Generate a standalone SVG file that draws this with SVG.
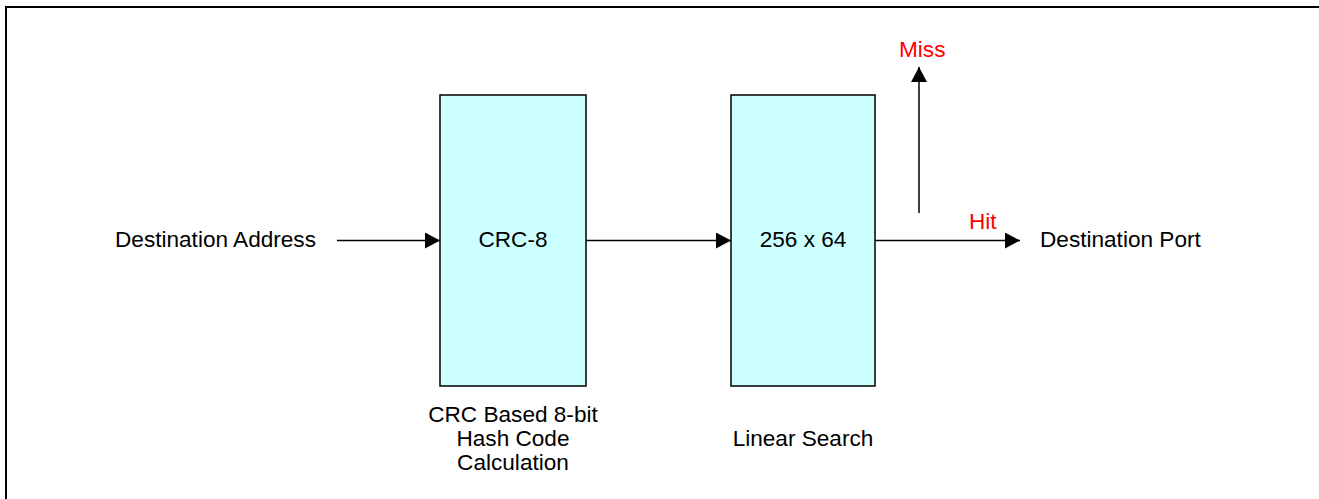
<svg xmlns="http://www.w3.org/2000/svg" width="1319" height="499" viewBox="0 0 1319 499">
<style>
.box{fill:#CCFFFF;stroke:#000;stroke-width:1.5}
.t{font-family:"Liberation Sans",Arial,sans-serif;font-size:22.6px;fill:#000}
.r{fill:#FF0000}
.c{text-anchor:middle}
.ln{stroke:#000;stroke-width:1.5;fill:none}
</style>
<defs>
<marker id="ah" markerUnits="userSpaceOnUse" markerWidth="16" markerHeight="18" refX="15" refY="8" orient="auto">
<path d="M0,0 L15,8 L0,16 Z" fill="#000"/>
</marker>
</defs>
<rect width="1319" height="499" fill="#fff"/>
<path d="M6,499 V7 H1319" fill="none" stroke="#000" stroke-width="2"/>
<g id="connectors">
<line class="ln" x1="337" y1="240.5" x2="440" y2="240.5" marker-end="url(#ah)"/>
<line class="ln" x1="586" y1="240.5" x2="731" y2="240.5" marker-end="url(#ah)"/>
<line class="ln" x1="875" y1="240.5" x2="1020" y2="240.5" marker-end="url(#ah)"/>
<line class="ln" x1="919" y1="213" x2="919" y2="67" marker-end="url(#ah)"/>
</g>
<g id="input"><text class="t" x="115" y="247">Destination Address</text></g>
<g id="crc">
<rect class="box" x="440" y="95" width="146" height="291"/>
<text class="t c" x="513" y="247">CRC-8</text>
<text class="t c" x="513" y="422">CRC Based 8-bit</text>
<text class="t c" x="513" y="446">Hash Code</text>
<text class="t c" x="513" y="470">Calculation</text>
</g>
<g id="search">
<rect class="box" x="731" y="95" width="144" height="291"/>
<text class="t c" x="803" y="247">256 x 64</text>
<text class="t c" x="803" y="446">Linear Search</text>
</g>
<g id="output"><text class="t" x="1040" y="247">Destination Port</text></g>
<g id="miss"><text class="t r" x="899" y="57">Miss</text></g>
<g id="hit"><text class="t r" x="969" y="229">Hit</text></g>
</svg>
